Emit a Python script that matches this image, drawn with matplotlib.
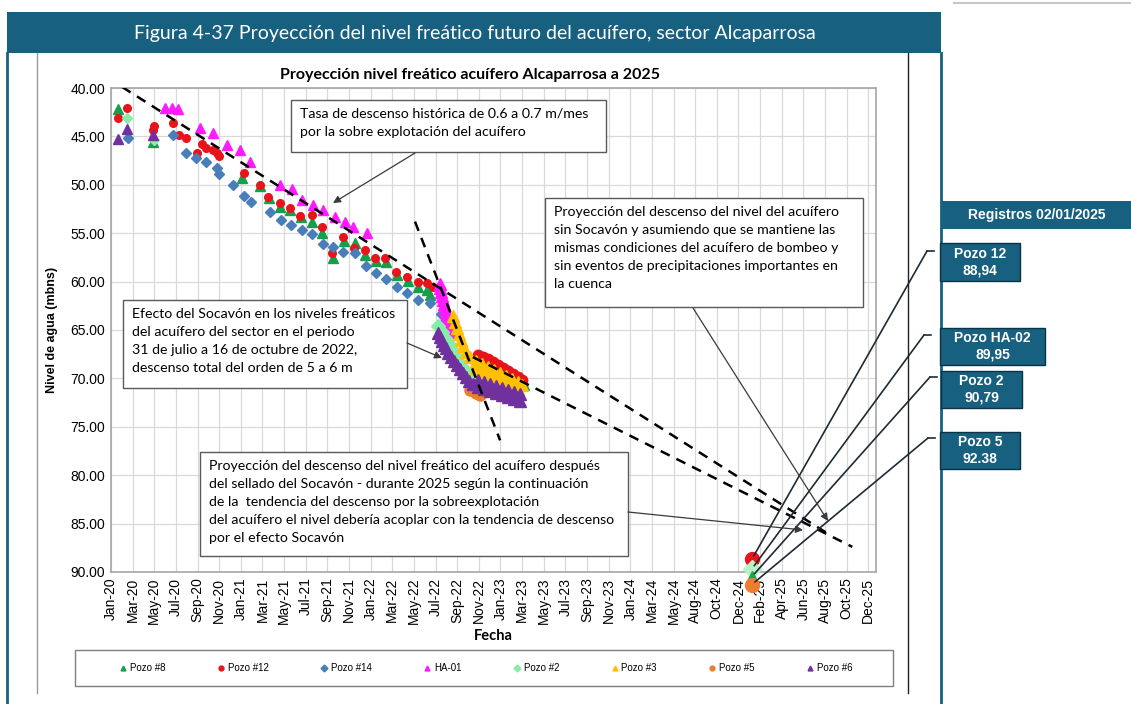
import numpy as np
import matplotlib.pyplot as plt
from matplotlib.patches import Rectangle
from matplotlib.lines import Line2D

# ------------------------------------------------------------
# 1. DATOS (dias desde 01/01/2020, nivel en mbns)
# ------------------------------------------------------------
tick_labels = ["Jan-20", "Mar-20", "May-20", "Jul-20", "Sep-20", "Nov-20",
               "Jan-21", "Mar-21", "May-21", "Jul-21", "Sep-21", "Nov-21",
               "Jan-22", "Mar-22", "May-22", "Jul-22", "Sep-22", "Nov-22",
               "Jan-23", "Mar-23", "May-23", "Jul-23", "Sep-23", "Nov-23",
               "Jan-24", "Mar-24", "May-24", "Aug-24", "Oct-24", "Dec-24",
               "Feb-25", "Apr-25", "Jun-25", "Aug-25", "Oct-25", "Dec-25"]

# mediciones mensuales
dias_p8 = [20, 120, 375, 427, 453, 484, 513, 545, 576, 605, 636, 668, 699, 728,
           759, 788, 820, 851, 880, 906, 914, 1172, 1184]
nivel_p8 = [42.2, 45.6, 49.3, 50.1, 51.4, 52.3, 52.6, 53.3, 53.8, 55.0, 57.6, 55.8,
            56.0, 57.3, 57.9, 58.0, 59.3, 59.9, 60.6, 60.9, 61.4, 70.4, 70.7]

dias_p12 = [20, 46, 120, 123, 178, 195, 215, 246, 261, 272, 292, 304, 310, 381,
            427, 450, 484, 513, 542, 576, 605, 633, 665, 696, 728, 757, 785, 817,
            848, 880, 906, 923]
nivel_p12 = [43.1, 42.1, 44.3, 43.9, 43.6, 44.9, 45.2, 46.7, 45.8, 46.2, 46.4, 46.7,
             47.0, 48.8, 50.0, 51.3, 51.9, 52.4, 53.2, 53.1, 54.4, 57.0, 55.4, 56.5,
             56.7, 57.6, 57.6, 59.0, 59.5, 60.0, 60.1, 60.6]

dias_p14 = [49, 178, 215, 244, 272, 304, 310, 350, 381, 401, 456, 487, 516, 547,
            576, 608, 636, 665, 699, 731, 759, 788, 820, 848, 880, 914, 946, 954]
nivel_p14 = [45.2, 44.9, 46.7, 47.2, 47.6, 48.3, 48.9, 50.0, 51.2, 51.8, 52.8, 53.6,
             54.2, 54.7, 55.1, 56.1, 56.4, 56.9, 57.0, 58.4, 59.1, 59.7, 60.6, 61.2,
             61.9, 62.2, 63.3, 64.2]

dias_ha01 = [155, 175, 192, 255, 292, 332, 370, 398, 484, 519, 547, 579, 608, 642,
             671, 694, 734]
nivel_ha01 = [42.1, 42.1, 42.2, 44.1, 44.6, 45.9, 46.4, 47.6, 50.0, 50.4, 51.6, 52.1,
              52.6, 53.3, 53.8, 54.4, 55.0]

dias_p2 = [46, 123]
nivel_p2 = [43.1, 45.4]

dias_p6 = [20, 46, 120]
nivel_p6 = [45.3, 44.2, 44.9]

# mediciones diarias periodo Socavón (ago 2022 - feb 2023)
dias_p12_soc = [1052, 1066, 1080, 1095, 1109, 1123, 1138, 1152, 1166, 1178]
nivel_p12_soc = [67.6, 67.8, 68.0, 68.3, 68.6, 68.9, 69.2, 69.5, 69.9, 70.2]

dias_ha01_soc = [943, 943, 946, 949, 951, 954, 957, 960, 963, 966, 972, 977, 983]
nivel_ha01_soc = [60.2, 60.7, 61.1, 61.5, 61.9, 62.3, 62.7, 63.1, 63.6, 64.0, 64.4,
                  64.8, 65.2]

dias_p2_soc = [937, 949, 957, 969, 977, 989, 997, 1009, 1020, 1035]
nivel_p2_soc = [64.6, 65.2, 65.8, 66.4, 67.1, 67.7, 68.3, 68.9, 69.4, 69.9]

dias_p3_soc = [980, 986, 992, 997, 1003, 1009, 1017, 1029, 1046, 1063, 1080, 1098,
               1115, 1132, 1149, 1166, 1178,
               1046, 1063, 1080, 1098, 1115, 1132, 1149, 1166]
nivel_p3_soc = [63.6, 64.2, 64.8, 65.4, 66.0, 66.7, 67.3, 67.8, 68.2, 68.5, 68.8, 69.1,
                69.4, 69.8, 70.1, 70.4, 70.7,
                68.9, 69.2, 69.5, 69.9, 70.2, 70.5, 70.8, 71.1]

dias_p5_soc = [1029, 1046, 1058]
nivel_p5_soc = [71.2, 71.5, 71.7]

dias_p6_soc = [937, 943, 949, 954, 960, 966, 974, 983, 992, 1000, 1009, 1017, 1026,
               1037, 1052, 1069, 1086, 1103, 1121, 1138, 1155, 1172,
               1052, 1069, 1086, 1103, 1121, 1138, 1155, 1172]
nivel_p6_soc = [65.3, 65.7, 66.1, 66.5, 66.9, 67.4, 67.8, 68.2, 68.6, 69.0, 69.4, 69.9,
                70.3, 70.6, 70.9, 71.1, 71.3, 71.5, 71.7, 71.9, 72.1, 72.3,
                70.2, 70.4, 70.6, 70.8, 71.0, 71.2, 71.4, 71.6]

# lineas de tendencia (extremos)
tend_hist_dias = [32, 2061]
tend_hist_nivel = [39.9, 86.2]
tend_post_dias = [1037, 2124]
tend_post_nivel = [67.8, 87.4]
tend_soc_dias = [871, 1115]
tend_soc_nivel = [53.8, 76.4]

# registros 02/01/2025
reg_dia = 1836
reg_pozos = ["Pozo 12", "Pozo HA-02", "Pozo 2", "Pozo 5"]
reg_etiquetas = ["88,94", "89,95", "90,79", "92.38"]
reg_nivel = [88.7, 89.7, 90.5, 91.3]
reg_colores = ["#e8141b", "#b9f0c4", "#13a84b", "#ed7d31"]
reg_marcas = ["o", "D", "^", "o"]

# ------------------------------------------------------------
# 2. FIGURA
# ------------------------------------------------------------
W, H = 1131, 704
AZUL = "#17607f"

def fx(px):
    return px / W

def fy(py):
    return 1 - py / H

fig = plt.figure(figsize=(W / 100, H / 100), dpi=100)
fig.patch.set_facecolor("white")

# marco y barra de titulo
fig.add_artist(Rectangle((fx(7), fy(53)), (941 - 7) / W, 41 / H,
                         transform=fig.transFigure, fc=AZUL, ec="none", zorder=1))
fig.text(fx(475), fy(33), "Figura 4-37 Proyección del nivel freático futuro del acuífero, sector Alcaparrosa",
         ha="center", va="center", color="white", fontsize=14, family="Lato", zorder=2)
for xb in (7, 941):
    fig.add_artist(Line2D([fx(xb)] * 2, [fy(53), 0], transform=fig.transFigure,
                          color=AZUL, lw=2, zorder=1))
fig.add_artist(Line2D([fx(37)] * 2, [fy(53), fy(693)], transform=fig.transFigure,
                      color="#9a9a9a", lw=1, zorder=1))
fig.add_artist(Line2D([fx(908)] * 2, [fy(53), fy(693)], transform=fig.transFigure,
                      color="#222222", lw=1, zorder=1))
fig.add_artist(Line2D([fx(954), 1], [fy(3)] * 2, transform=fig.transFigure,
                      color="#c8c8c8", lw=1.5, zorder=1))

# ------------------------------------------------------------
# 3. GRAFICO
# ------------------------------------------------------------
ax = fig.add_axes([fx(111), fy(572), (876 - 111) / W, (572 - 88) / H])

series = [
    ("Pozo #8", dias_p8, nivel_p8, [], [], "^", "#14a04a", 6.5),
    ("Pozo #12", dias_p12, nivel_p12, dias_p12_soc, nivel_p12_soc, "o", "#e8141b", 5.5),
    ("Pozo #14", dias_p14, nivel_p14, [], [], "D", "#4a7ebb", 5.5),
    ("HA-01", dias_ha01, nivel_ha01, dias_ha01_soc, nivel_ha01_soc, "^", "#ff1aff", 7.0),
    ("Pozo #2", dias_p2, nivel_p2, dias_p2_soc, nivel_p2_soc, "D", "#86eea8", 5.5),
    ("Pozo #3", [], [], dias_p3_soc, nivel_p3_soc, "^", "#ffc000", 7.0),
    ("Pozo #5", [], [], dias_p5_soc, nivel_p5_soc, "o", "#ed7d31", 6.0),
    ("Pozo #6", dias_p6, nivel_p6, dias_p6_soc, nivel_p6_soc, "^", "#7030a0", 7.0),
]

handles = []
for nombre, xs, ys, xs_soc, ys_soc, mk, col, ms in series:
    ax.plot(xs, ys, ls="none", marker=mk, ms=ms, mfc=col, mec=col, zorder=3)
    ax.plot(xs_soc, ys_soc, ls="none", marker=mk, ms=ms + 2, mfc=col, mec=col, zorder=3)
    handles.append(Line2D([], [], ls="none", marker=mk, ms=3.5, mfc=col, mec=col))

for xs, ys in ((tend_hist_dias, tend_hist_nivel),
               (tend_post_dias, tend_post_nivel),
               (tend_soc_dias, tend_soc_nivel)):
    ax.plot(xs, ys, color="black", lw=1.8, ls=(0, (4, 3)), zorder=4)

for nv, col, mk in zip(reg_nivel, reg_colores, reg_marcas):
    ax.plot(reg_dia, nv, ls="none", marker=mk, ms=10 if mk == "o" else 9,
            mfc=col, mec=col, zorder=5, clip_on=False)

ax.set_xlim(0, 2192)
ax.set_ylim(90, 40)
ax.set_xticks(np.arange(len(tick_labels)) * 62)
ax.set_xticklabels(tick_labels, rotation=90, fontsize=10, family="Liberation Sans")
ax.set_yticks(np.arange(40, 91, 5))
ax.set_yticklabels([f"{v:.2f}" for v in np.arange(40, 91, 5)], fontsize=10,
                   family="Liberation Sans")
ax.tick_params(length=0, pad=4)
ax.grid(True, color="#d9d9d9", lw=0.9)
ax.set_axisbelow(True)
for sp in ax.spines.values():
    sp.set_color("#a6a6a6")
    sp.set_linewidth(1.2)

fig.text(fx(470), fy(75), "Proyección nivel freático acuífero Alcaparrosa a 2025",
         ha="center", va="center", fontsize=11.5, fontweight="bold", family="Lato")
fig.text(fx(52), fy(330), "Nivel de agua (mbns)", rotation=90, ha="center", va="center",
         fontsize=9, fontweight="bold", family="Liberation Sans")
fig.text(fx(493), fy(636), "Fecha", ha="center", va="center", fontsize=10.5,
         fontweight="bold", family="Lato")

# leyenda
fig.add_artist(Rectangle((fx(75), fy(686)), (893 - 75) / W, 36 / H,
                         transform=fig.transFigure, fc="white", ec="#7f7f7f", lw=1, zorder=1))
fig.legend(handles, [s[0] for s in series], loc="center", ncol=8,
           bbox_to_anchor=(fx(486), fy(668)), frameon=False,
           handlelength=0.8, handletextpad=0.3, columnspacing=5.3,
           prop={"family": "Liberation Sans", "size": 7})

# ------------------------------------------------------------
# 4. CAJAS DE TEXTO Y FLECHAS
# ------------------------------------------------------------
def caja(x0, y0, x1, y1, texto, tam=10.2):
    fig.add_artist(Rectangle((fx(x0), fy(y1)), (x1 - x0) / W, (y1 - y0) / H,
                             transform=fig.transFigure, fc="white", ec="#595959",
                             lw=1, zorder=6))
    fig.text(fx(x0 + 9), fy(y0 + 8), texto, ha="left", va="top", fontsize=tam,
             family="Lato", linespacing=1.6, zorder=7)

def flecha(x0, y0, x1, y1):
    fig.add_artist(plt.Annotation("", xy=(fx(x1), fy(y1)), xycoords="figure fraction",
                                  xytext=(fx(x0), fy(y0)), textcoords="figure fraction",
                                  arrowprops=dict(arrowstyle="-|>", color="#3a3a3a", lw=0.9,
                                                  mutation_scale=11, shrinkA=0, shrinkB=0),
                                  zorder=8))

caja(291, 100, 606, 152,
     "Tasa de descenso histórica de 0.6 a 0.7 m/mes\npor la sobre explotación del acuífero")
caja(545, 198, 863, 307,
     "Proyección del descenso del nivel del acuífero\nsin Socavón y asumiendo que se mantiene las\n"
     "mismas condiciones del acuífero de bombeo y\nsin eventos de precipitaciones importantes en\nla cuenca")
caja(123, 300, 407, 388,
     "Efecto del Socavón en los niveles freáticos\ndel acuífero del sector en el periodo\n"
     "31 de julio a 16 de octubre de 2022,\ndescenso total del orden de 5 a 6 m")
caja(200, 452, 628, 556,
     "Proyección del descenso del nivel freático del acuífero después\n"
     "del sellado del Socavón - durante 2025 según la continuación\n"
     "de la  tendencia del descenso por la sobreexplotación\n"
     "del acuífero el nivel debería acoplar con la tendencia de descenso\npor el efecto Socavón")

flecha(415, 153, 333, 203)
flecha(407, 343, 442, 358)
flecha(693, 308, 828, 521)
flecha(628, 512, 803, 530)

# registros 02/01/2025
fig.add_artist(Rectangle((fx(942), fy(229)), (W - 942) / W, 28 / H,
                         transform=fig.transFigure, fc=AZUL, ec="none", zorder=6))
fig.text(fx(1037), fy(215), "Registros 02/01/2025", ha="center", va="center",
         color="white", fontsize=10, fontweight="bold", family="Liberation Sans", zorder=7)

cajas_reg = [(940, 243, 1020, 281, 251, 927), (940, 328, 1045, 365, 335, 924),
             (941, 371, 1022, 408, 377, 930), (940, 432, 1020, 469, 438, 928)]
for (x0, y0, x1, y1, yl, xl), pozo, etq, nv in zip(cajas_reg, reg_pozos, reg_etiquetas, reg_nivel):
    fig.add_artist(Rectangle((fx(x0), fy(y1)), (x1 - x0) / W, (y1 - y0) / H,
                             transform=fig.transFigure, fc=AZUL, ec="#0b3346", lw=1, zorder=6))
    fig.text(fx((x0 + x1) / 2), fy((y0 + y1) / 2), f"{pozo}\n{etq}", ha="center",
             va="center", color="white", fontsize=10, fontweight="bold",
             family="Liberation Sans", linespacing=1.25, zorder=7)
    fig.add_artist(Line2D([fx(xl), fx(xl + 7)], [fy(yl)] * 2, transform=fig.transFigure,
                          color="#1c2b36", lw=1.2, zorder=6))
    ax.annotate("", xy=(reg_dia, nv), xycoords="data", xytext=(fx(xl), fy(yl)),
                textcoords="figure fraction", annotation_clip=False,
                arrowprops=dict(arrowstyle="-", color="#1c2b36", lw=1.2,
                                shrinkA=0, shrinkB=3), zorder=6)

fig.savefig("out.png", dpi=100)
